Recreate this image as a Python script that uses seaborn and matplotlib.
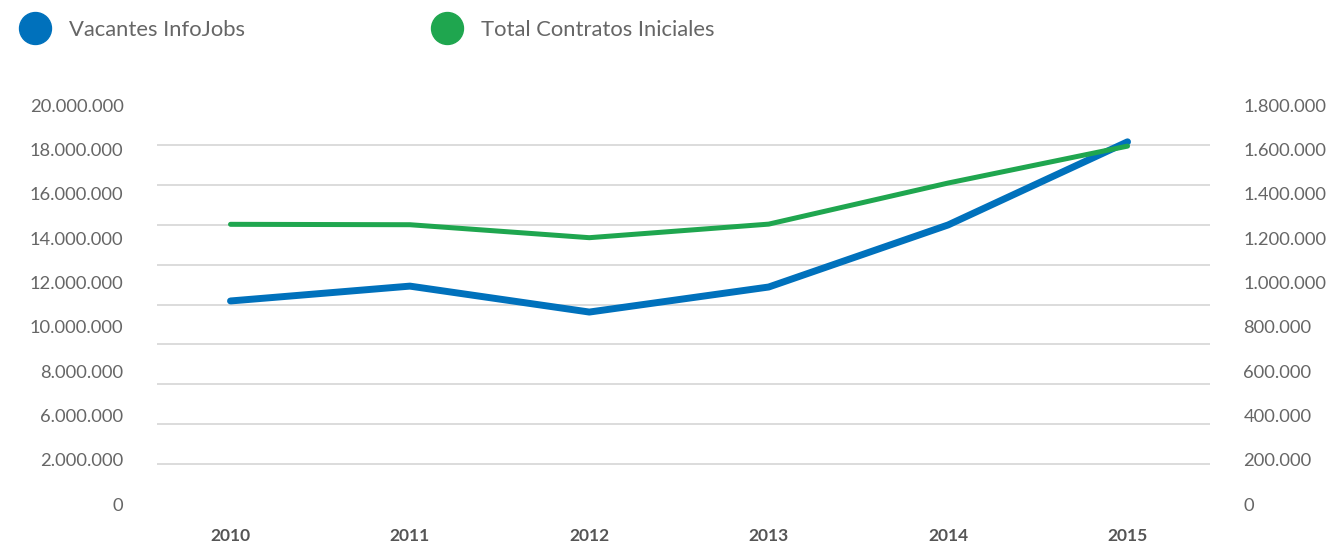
import numpy as np
import pandas as pd
import matplotlib
matplotlib.use('Agg')
import matplotlib.pyplot as plt
from matplotlib.lines import Line2D
import seaborn as sns

# data
years = ['2010', '2011', '2012', '2013', '2014', '2015']
vacantes = [916000, 983000, 866000, 979000, 1259000, 1634000]          # right axis
contratos = [14020000, 14000000, 13350000, 14030000, 16090000, 17940000]  # left axis

left_labels = ['0', '2.000.000', '6.000.000', '8.000.000', '10.000.000', '12.000.000',
               '14.000.000', '16.000.000', '18.000.000', '20.000.000']
right_labels = ['0', '200.000', '400.000', '600.000', '800.000', '1.000.000',
                '1.200.000', '1.400.000', '1.600.000', '1.800.000']
series_names = ['Vacantes InfoJobs', 'Total Contratos Iniciales']

blue = '#0071bc'
green = '#1fa64f'
grey_txt = '#666666'

df = pd.DataFrame({'year': years, 'vacantes': vacantes, 'contratos': contratos})

sns.set_style('white')
plt.rcParams['font.family'] = ['Lato', 'DejaVu Sans']

fig = plt.figure(figsize=(13.29, 5.45), dpi=100)
ax2 = fig.add_axes([0.1181, 0.0752, 0.7924, 0.7321])   # right axis, bottom layer
ax = ax2.twinx()                                        # left axis, top layer
ax.yaxis.tick_left()
ax2.yaxis.tick_right()

# gridlines (11 lines) on the bottom layer
ax2.set_ylim(0, 1.8e6)
ax2.set_yticks(np.linspace(0, 1.8e6, 11), minor=True)
ax2.grid(which='minor', axis='y', color='#d9d9d9', lw=1.3)
ax2.grid(which='major', visible=False)

sns.lineplot(data=df, x='year', y='vacantes', ax=ax2, color=blue, lw=5,
             solid_capstyle='round', sort=False)
sns.lineplot(data=df, x='year', y='contratos', ax=ax, color=green, lw=3.6,
             solid_capstyle='round', sort=False)

ax.set_ylim(0, 20e6)
ax.set_yticks(np.linspace(0, 20e6, 10))
ax.set_yticklabels(left_labels)
ax2.set_yticks(np.linspace(0, 1.8e6, 10))
ax2.set_yticklabels(right_labels)
ax.set_xlim(-0.41, 5.46)
ax2.set_xlim(-0.41, 5.46)

for a in (ax, ax2):
    for s in a.spines.values():
        s.set_visible(False)
    a.set_xlabel('')
    a.set_ylabel('')
    a.tick_params(axis='y', which='both', length=0, pad=24, labelsize=13.2, labelcolor=grey_txt)
    a.tick_params(axis='x', length=0, pad=17.5, labelsize=12.5, labelcolor='#555555')
for lbl in ax2.get_xticklabels():
    lbl.set_fontweight('bold')
ax.tick_params(axis='x', labelbottom=False)

# legend at the top
for name, col, x0 in [(series_names[0], blue, 0.0147), (series_names[1], green, 0.3247)]:
    h = Line2D([], [], marker='o', ls='', markersize=23, color=col)
    fig.legend([h], [name], loc='center left', bbox_to_anchor=(x0, 0.945),
               frameon=False, fontsize=15.8, labelcolor=grey_txt, borderpad=0,
               borderaxespad=0, handlelength=1.45, handletextpad=0.8)

fig.savefig('out.png', dpi=100)
